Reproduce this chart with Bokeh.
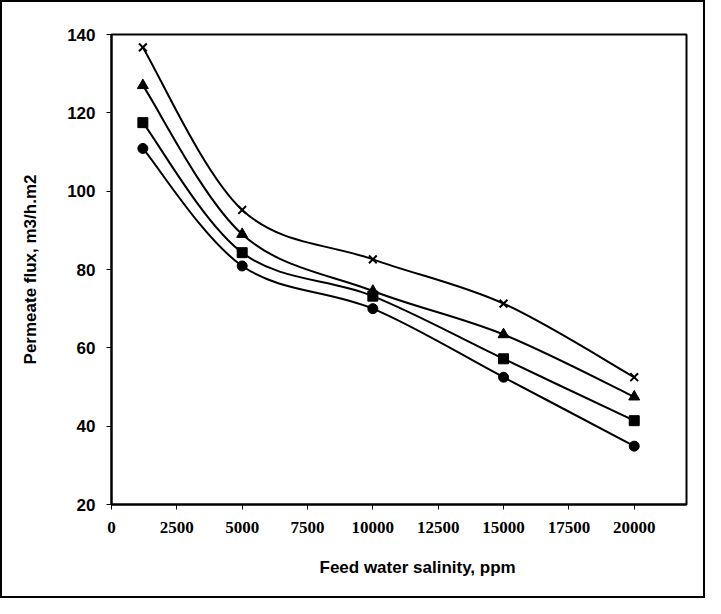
import numpy as np
from bokeh.plotting import figure
from bokeh.models import Range1d, FixedTicker, Title, ColumnDataSource
from bokeh.embed import file_html
from bokeh.resources import INLINE

# ---- data ----
salinity = [1200, 5000, 10000, 15000, 20000]
flux_cross = [136.7, 95.2, 82.6, 71.3, 52.5]
flux_triangle = [127.0, 89.0, 74.5, 63.4, 47.5]
flux_square = [117.5, 84.3, 73.2, 57.2, 41.4]
flux_circle = [110.9, 80.9, 70.0, 52.5, 34.9]
x_ticks = [0, 2500, 5000, 7500, 10000, 12500, 15000, 17500, 20000]
y_ticks = [20, 40, 60, 80, 100, 120, 140]


def smooth_segments(xs, ys):
    """Bezier control points of an Excel-style smoothed line through the points."""
    xs = np.asarray(xs, float)
    ys = np.asarray(ys, float)
    n = len(xs)
    d = dict(x0=[], y0=[], x1=[], y1=[], cx0=[], cy0=[], cx1=[], cy1=[])
    for i in range(n - 1):
        p0 = i - 1 if i > 0 else i
        p3 = i + 2 if i + 2 < n else i + 1
        d["x0"].append(xs[i]); d["y0"].append(ys[i])
        d["x1"].append(xs[i + 1]); d["y1"].append(ys[i + 1])
        d["cx0"].append(xs[i] + (xs[i + 1] - xs[p0]) / 6)
        d["cy0"].append(ys[i] + (ys[i + 1] - ys[p0]) / 6)
        d["cx1"].append(xs[i + 1] - (xs[p3] - xs[i]) / 6)
        d["cy1"].append(ys[i + 1] - (ys[p3] - ys[i]) / 6)
    return ColumnDataSource(d)


p = figure(
    output_backend="svg",
    toolbar_location=None,
    frame_width=575,
    frame_height=470,
    min_border_left=109,
    min_border_right=17,
    min_border_top=32,
    min_border_bottom=92,
    x_range=Range1d(0, 22000),
    y_range=Range1d(20, 140),
    background_fill_color="white",
    border_fill_color="white",
    styles={"border": "2px solid black"},
)

p.outline_line_color = "black"
p.outline_line_width = 2
p.xgrid.visible = False
p.ygrid.visible = False

for ax in (p.xaxis[0], p.yaxis[0]):
    ax.axis_line_color = "black"
    ax.axis_line_width = 2
    ax.major_tick_in = 0
    ax.major_tick_out = 5
    ax.major_tick_line_color = "black"
    ax.minor_tick_line_color = None
    ax.major_label_text_color = "black"
    ax.major_label_text_font_style = "bold"

p.xaxis.ticker = FixedTicker(ticks=x_ticks)
p.yaxis.ticker = FixedTicker(ticks=y_ticks)
p.xaxis.major_label_text_font = "Liberation Serif"
p.xaxis.major_label_text_font_size = "17px"
p.xaxis.major_label_standoff = 12
p.yaxis.major_label_text_font = "Liberation Sans"
p.yaxis.major_label_text_font_size = "17px"
p.yaxis.major_label_standoff = 11

p.yaxis.axis_label = "Permeate flux, m3/h.m2"
p.yaxis.axis_label_text_font = "Liberation Sans"
p.yaxis.axis_label_text_font_size = "17px"
p.yaxis.axis_label_text_font_style = "bold"
p.yaxis.axis_label_text_color = "black"
p.yaxis.axis_label_standoff = 24

p.add_layout(Title(text="Feed water salinity, ppm", align="left", offset=208,
                   text_font="Liberation Sans", text_font_size="17px",
                   text_font_style="bold", text_color="black", standoff=40), "below")

series = [
    (flux_cross, "x", 11),
    (flux_triangle, "triangle", 11),
    (flux_square, "square", 10),
    (flux_circle, "circle", 10),
]
for ys, marker, size in series:
    src = smooth_segments(salinity, ys)
    p.bezier(x0="x0", y0="y0", x1="x1", y1="y1", cx0="cx0", cy0="cy0",
             cx1="cx1", cy1="cy1", source=src, line_color="black", line_width=2)
    p.scatter(salinity, ys, marker=marker, size=size, fill_color="black",
              line_color="black", line_width=2 if marker == "x" else 1)

open("out.html", "w").write(file_html(p, INLINE))
